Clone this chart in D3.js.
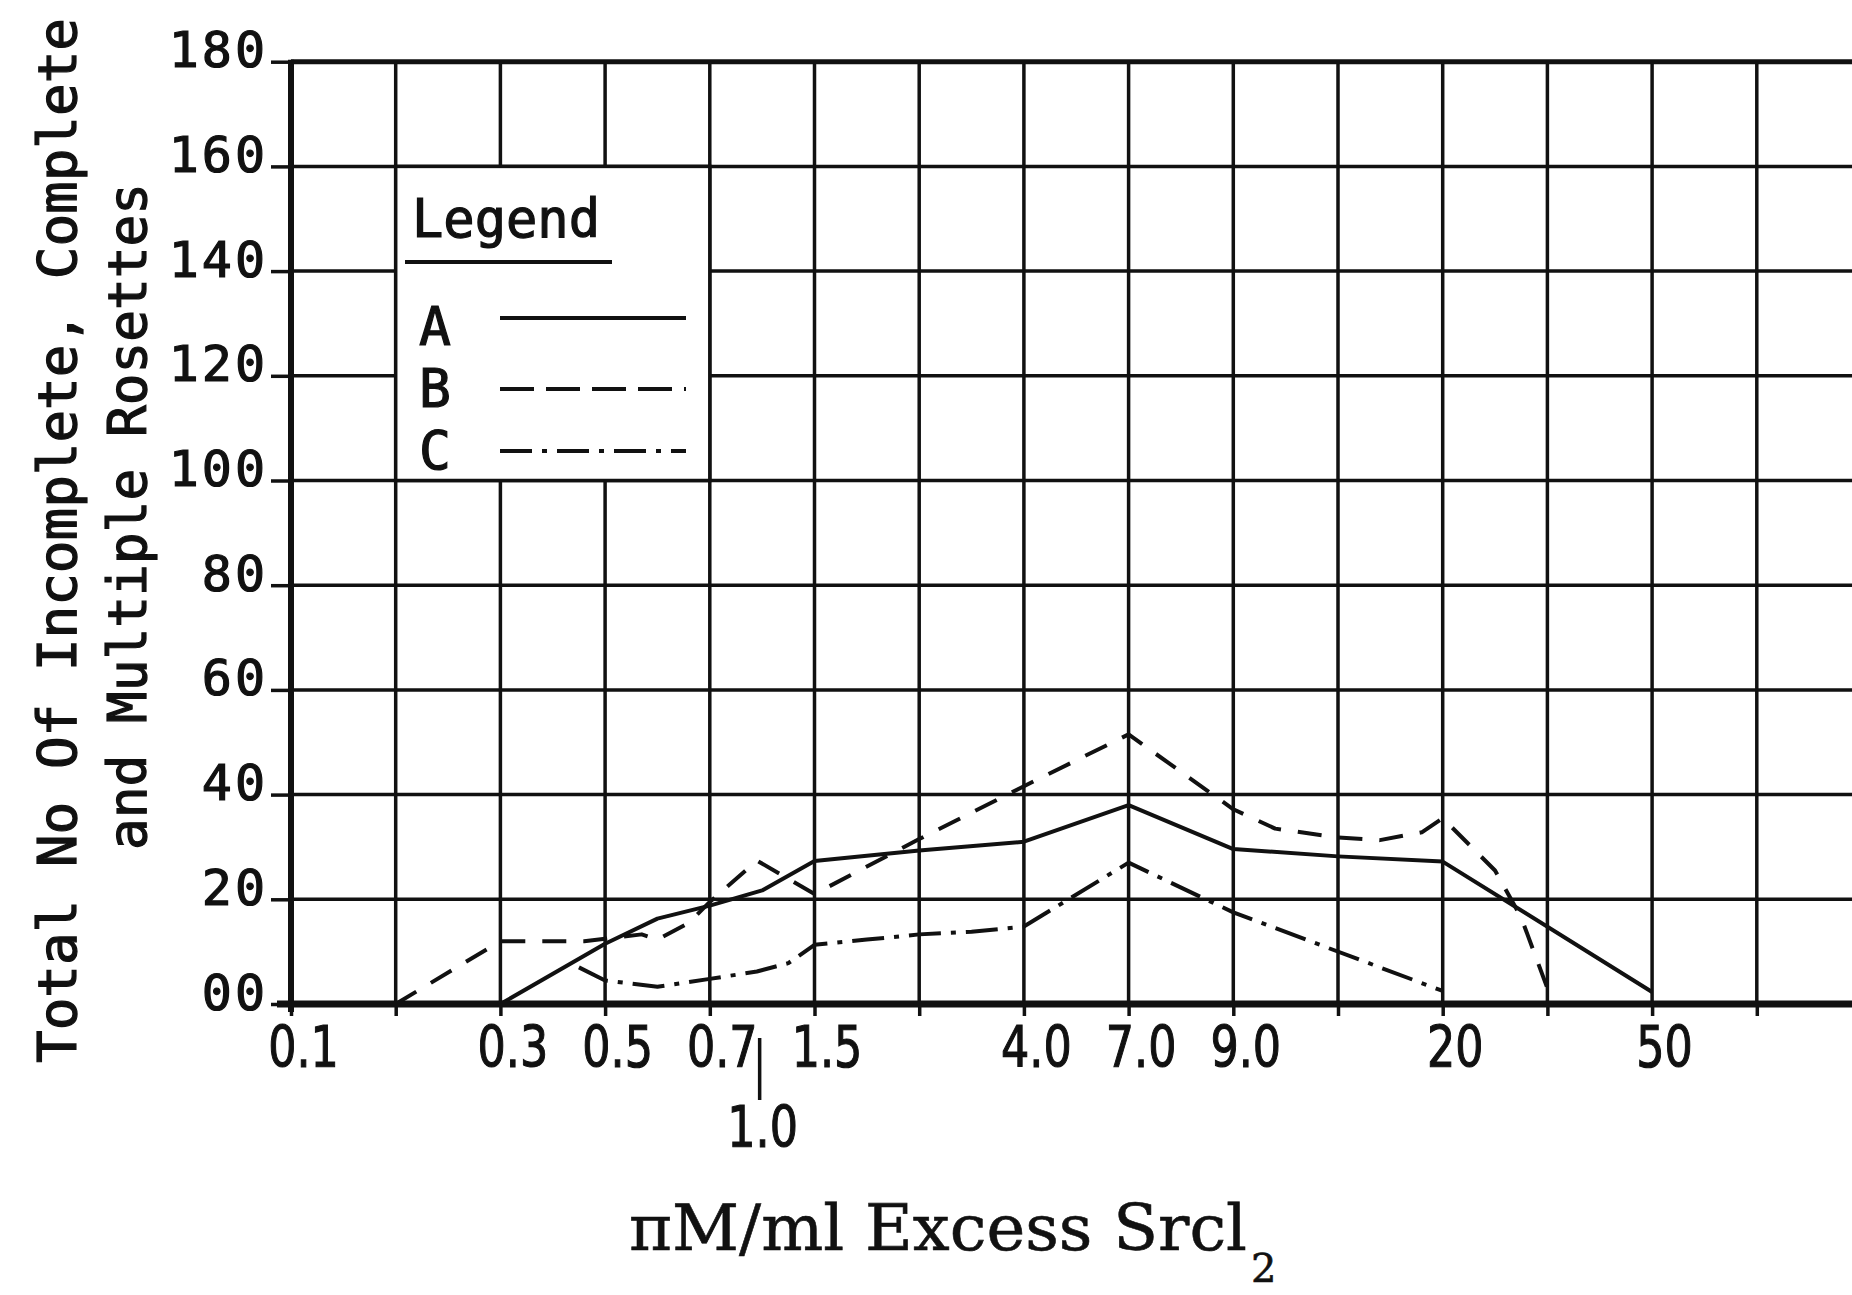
<!DOCTYPE html>
<html>
<head>
<meta charset="UTF-8">
<title>Rosettes vs excess SrCl2</title>
<script src="https://cdn.jsdelivr.net/npm/d3@7"></script>
<style>
  body { margin: 0; background: #fff; }
  svg { display: block; }
</style>
</head>
<body>
<script>
// x positions are grid-column numbers of the original sheet (0 = left axis)
var xTickPos = [0, 2, 3, 4, 5, 7, 8, 9, 11, 13];
var xTickLabels = ["0.1", "0.3", "0.5", "0.7", "1.5", "4.0", "7.0", "9.0", "20", "50"];
var xLowPos = [4.5];
var xLowLabels = ["1.0"];
var yTicks = [0, 20, 40, 60, 80, 100, 120, 140, 160, 180];
var yTickLabels = ["00", "20", "40", "60", "80", "100", "120", "140", "160", "180"];

var seriesNames = ["A", "B", "C"];
var aX = [2, 3, 3.5, 4, 4.5, 5, 6, 7, 8, 9, 10, 11, 13];
var aY = [0, 11.5, 16.3, 18.8, 21.7, 27.3, 29.3, 31, 38, 29.6, 28.2, 27.2, 2.3];
var bX = [1, 2, 2.8, 3.35, 3.5, 3.8, 4, 4.45, 5, 6, 7, 8, 9, 9.4, 10, 10.4, 10.8, 11, 11.5, 11.75, 12];
var bY = [0, 12, 12, 13.3, 12.3, 15.5, 19.5, 27.4, 21, 31.5, 41.6, 51.5, 37.2, 33.5, 31.8, 31.3, 32.8, 35.5, 25.5, 16.5, 3];
var cX = [2.75, 3, 3.5, 4, 4.45, 4.75, 5, 5.5, 6, 6.5, 7, 8, 9, 11];
var cY = [7, 4.5, 3.3, 4.8, 6.2, 7.8, 11.3, 12.3, 13.3, 13.8, 14.8, 27, 17.5, 2.5];

var W = 1852, H = 1295;
var ink = "#111";
var plotFont = "'DejaVu Sans Mono', monospace";

var svg = d3.select("body").append("svg")
    .attr("width", W).attr("height", H)
    .style("background", "#fff");

var x = d3.scaleLinear().domain([0, 15]).range([291, 291 + 15 * 104.7]);
var y = d3.scaleLinear().domain([0, 180]).range([1004, 1004 - 9 * 104.7]);

// text in the plotter lettering is a bit heavier than the regular face
function heavy(sel, w) {
    sel.attr("fill", ink).attr("stroke", ink).attr("stroke-width", w);
}

// grid
svg.append("g").selectAll("line")
    .data(d3.range(1, 16))
  .enter().append("line")
    .attr("x1", function(d) { return x(d); })
    .attr("x2", function(d) { return x(d); })
    .attr("y1", y(180)).attr("y2", y(0))
    .attr("stroke", ink).attr("stroke-width", 3.5);

svg.append("g").selectAll("line")
    .data(yTicks.slice(1, -1))
  .enter().append("line")
    .attr("x1", x(0)).attr("x2", W)
    .attr("y1", function(d) { return y(d); })
    .attr("y2", function(d) { return y(d); })
    .attr("stroke", ink).attr("stroke-width", 3.5);

// top frame line
svg.append("line")
    .attr("x1", x(0)).attr("x2", W)
    .attr("y1", y(180)).attr("y2", y(180))
    .attr("stroke", ink).attr("stroke-width", 5);

// legend box sits on the grid and hides it
svg.append("rect")
    .attr("x", x(1)).attr("y", y(160))
    .attr("width", x(4) - x(1)).attr("height", y(100) - y(160))
    .attr("fill", "#fff").attr("stroke", ink).attr("stroke-width", 3.5);

// series
var dashes = [null, "24,17", "32,10,5,10"];
var legendDashes = [null, "34,12", "32,10,5,10"];
var series = [
    d3.zip(aX, aY),
    d3.zip(bX, bY),
    d3.zip(cX, cY)
];
var line = d3.line()
    .x(function(d) { return x(d[0]); })
    .y(function(d) { return y(d[1]); });

series.forEach(function(pts, i) {
    svg.append("path")
        .attr("d", line(pts))
        .attr("fill", "none")
        .attr("stroke", ink)
        .attr("stroke-width", 4)
        .attr("stroke-linejoin", "round")
        .attr("stroke-dasharray", dashes[i]);
});

// axes
var yAxis = svg.append("g")
    .attr("transform", "translate(" + x(0) + ",0)")
    .call(d3.axisLeft(y).tickValues(yTicks).tickSize(20).tickPadding(3)
        .tickFormat(function(d, i) { return yTickLabels[i]; }));
yAxis.select(".domain").remove();
yAxis.selectAll("line").attr("stroke", ink).attr("stroke-width", 3.5);
yAxis.selectAll("text")
    .attr("dy", "0.1em")
    .call(heavy, 1.2)
    .style("font-family", plotFont)
    .style("font-size", "50px")
    .style("letter-spacing", "3px");

var xTicks = svg.append("g")
    .attr("transform", "translate(0," + y(0) + ")")
    .call(d3.axisBottom(x).tickValues(d3.range(0, 15)).tickSize(12).tickFormat(""));
xTicks.select(".domain").remove();
xTicks.selectAll("line").attr("stroke", ink).attr("stroke-width", 3.5);

var xLabels = svg.append("g")
    .attr("transform", "translate(0," + y(0) + ")")
    .call(d3.axisBottom(x).tickValues(xTickPos).tickSize(0)
        .tickFormat(function(d, i) { return xTickLabels[i]; }));
xLabels.select(".domain").remove();
xLabels.selectAll("text")
    .attr("y", 63).attr("dy", 0)
    .attr("transform", "translate(12,0) scale(0.78,1)")
    .call(heavy, 1.2)
    .style("font-family", "'DejaVu Sans', sans-serif")
    .style("font-size", "57px");

var xLow = svg.append("g")
    .attr("transform", "translate(0," + y(0) + ")")
    .call(d3.axisBottom(x).tickValues(xLowPos).tickSize(0)
        .tickFormat(function(d, i) { return xLowLabels[i]; }));
xLow.select(".domain").remove();
xLow.selectAll("text")
    .attr("y", 143).attr("dy", 0)
    .attr("transform", "scale(0.78,1)")
    .call(heavy, 1.2)
    .style("font-family", "'DejaVu Sans', sans-serif")
    .style("font-size", "57px");
xLow.selectAll(".tick").append("line")
    .attr("x1", -3).attr("x2", -3)
    .attr("y1", 34).attr("y2", 96)
    .attr("stroke", ink).attr("stroke-width", 3.5);

// heavy axis lines
svg.append("line")
    .attr("x1", x(0) - 14).attr("x2", W)
    .attr("y1", y(0)).attr("y2", y(0))
    .attr("stroke", ink).attr("stroke-width", 7);
svg.append("line")
    .attr("x1", x(0)).attr("x2", x(0))
    .attr("y1", y(180) - 2).attr("y2", y(0) + 8)
    .attr("stroke", ink).attr("stroke-width", 6);

// legend
svg.append("text")
    .attr("x", 412).attr("y", 237)
    .attr("textLength", 188).attr("lengthAdjust", "spacingAndGlyphs")
    .call(heavy, 1.2)
    .style("font-family", plotFont).style("font-size", "53px")
    .text("Legend");
svg.append("line")
    .attr("x1", 405).attr("x2", 612)
    .attr("y1", 262).attr("y2", 262)
    .attr("stroke", ink).attr("stroke-width", 4);

var legBase = [345, 407, 469];
var legLineY = [318, 389, 451];
seriesNames.forEach(function(name, i) {
    svg.append("text")
        .attr("x", 419).attr("y", legBase[i])
        .call(heavy, 1.2)
        .style("font-family", plotFont).style("font-size", "53px")
        .text(name);
    svg.append("line")
        .attr("x1", 500).attr("x2", 686)
        .attr("y1", legLineY[i]).attr("y2", legLineY[i])
        .attr("stroke", ink).attr("stroke-width", 4)
        .attr("stroke-dasharray", legendDashes[i]);
});

// y axis title, two lines
svg.append("text")
    .attr("transform", "translate(76,1063) rotate(-90)")
    .attr("textLength", 1045).attr("lengthAdjust", "spacingAndGlyphs")
    .call(heavy, 1.2)
    .style("font-family", plotFont).style("font-size", "53px")
    .text("Total No Of Incomplete, Complete");
svg.append("text")
    .attr("transform", "translate(146,850) rotate(-90)")
    .attr("textLength", 667).attr("lengthAdjust", "spacingAndGlyphs")
    .call(heavy, 1.2)
    .style("font-family", plotFont).style("font-size", "53px")
    .text("and Multiple Rosettes");

// x axis title
svg.append("text")
    .attr("x", 629).attr("y", 1250)
    .attr("textLength", 618).attr("lengthAdjust", "spacingAndGlyphs")
    .call(heavy, 0.6)
    .style("font-family", "'DejaVu Serif', serif").style("font-size", "64px")
    .text("\u03c0M/ml Excess Srcl");
svg.append("text")
    .attr("x", 1251).attr("y", 1282)
    .call(heavy, 0.6)
    .style("font-family", "'DejaVu Serif', serif").style("font-size", "40px")
    .text("2");
</script>
</body>
</html>
